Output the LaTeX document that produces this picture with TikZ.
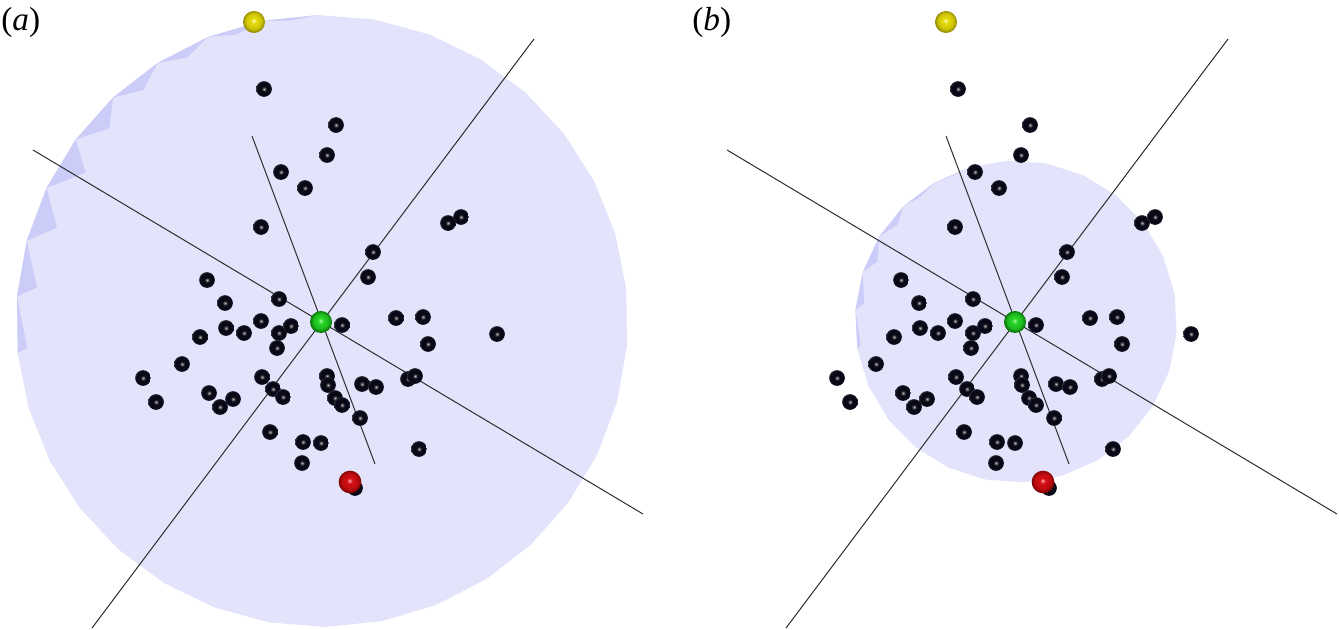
\documentclass[tikz,border=0pt]{standalone}
\usepackage{fontspec}
\setmainfont{Liberation Serif}
\definecolor{discfill}{RGB}{227,227,251}
\definecolor{toothfill}{RGB}{204,204,248}
\definecolor{axiscol}{RGB}{45,45,45}
\definecolor{gA}{RGB}{170,255,170}\definecolor{gB}{RGB}{40,215,40}\definecolor{gD}{RGB}{0,95,0}
\definecolor{rA}{RGB}{255,175,175}\definecolor{rB}{RGB}{215,15,20}\definecolor{rD}{RGB}{110,0,0}
\definecolor{yA}{RGB}{255,255,200}\definecolor{yB}{RGB}{228,218,10}\definecolor{yD}{RGB}{130,120,0}
\definecolor{ballblack}{RGB}{8,8,22}
\pgfdeclareradialshading{bkball}{\pgfpoint{0bp}{0bp}}{color(0bp)=(white!75!black); color(3bp)=(white!45!black); color(8bp)=(ballblack); color(22bp)=(ballblack); color(25bp)=(ballblack!85!white); color(50bp)=(ballblack!85!white)}
\pgfdeclareradialshading{gball}{\pgfpoint{-1bp}{3bp}}{color(0bp)=(gA); color(6bp)=(gB); color(17bp)=(gB!75!gD); color(27bp)=(gD); color(50bp)=(gD)}
\pgfdeclareradialshading{rball}{\pgfpoint{-1bp}{3bp}}{color(0bp)=(rA); color(6bp)=(rB); color(17bp)=(rB!75!rD); color(27bp)=(rD); color(50bp)=(rD)}
\pgfdeclareradialshading{yball}{\pgfpoint{-1bp}{3bp}}{color(0bp)=(yA); color(6bp)=(yB); color(17bp)=(yB!80!yD); color(27bp)=(yD); color(50bp)=(yD)}
\tikzset{
  bb/.style={circle, inner sep=0pt, minimum size=11.8pt, shade, shading=bkball},
  greenball/.style={circle, inner sep=0pt, minimum size=16.5pt, shade, shading=gball},
  redball/.style={circle, inner sep=0pt, minimum size=17pt, shade, shading=rball},
  yellowball/.style={circle, inner sep=0pt, minimum size=16.5pt, shade, shading=yball},
  axisline/.style={draw=axiscol, line width=0.75pt},
  disc/.style={fill=discfill},
  tooth/.style={fill=toothfill},
  paneltag/.style={anchor=west, inner sep=0pt, font=\fontsize{25}{25}\selectfont}
}
\def\pts{264/89, 336/125, 327/155, 281/172, 305/188, 261/227, 448/223, 461/217,
373/252, 368/277, 207/280, 225/303, 279/299, 226/328, 244/333, 261/321, 200/337,
279/333, 291/326, 277/348, 342/325, 396/318, 423/317, 497/334, 428/344, 182/364,
143/378, 156/402, 209/393, 220/407, 233/399, 262/377, 273/389, 283/397, 327/376,
328/385, 335/398, 342/405, 362/384, 376/387, 408/379, 415/376, 360/418, 270/432,
303/442, 321/443, 302/463, 419/449, 355/488}
\begin{document}
\begin{tikzpicture}[x=0.75pt,y=-0.75pt]
\useasboundingbox (0,0) rectangle (1339,630);
% ---- disc (a): faceted, N=34
\fill[disc] plot[samples=35, domain=0:34, variable=\t]
  ({322+306*cos(-4.6+\t*360/34)},{321-306*sin(-4.6+\t*360/34)}) -- cycle;
\foreach \k/\f/\d in {9/0.5/4, 10/0.5/7, 11/0.5/10, 12/0.5/14, 13/0.45/19, 14/0.4/27, 15/0.6/25, 16/0.8/19, 17/0.93/10}{
  \pgfmathsetmacro\ta{-4.6+\k*360/34}
  \pgfmathsetmacro\tb{\ta+360/34}
  \pgfmathsetmacro\tc{\ta+\f*360/34}
  \fill[tooth] ({322+306*cos(\ta)},{321-306*sin(\ta)}) -- ({322+(306-\d)*cos(\tc)},{321-(306-\d)*sin(\tc)}) -- ({322+306*cos(\tb)},{321-306*sin(\tb)}) -- cycle;
}
% ---- disc (b): faceted, N=26
\fill[disc] plot[samples=27, domain=0:26, variable=\t]
  ({1016+161*cos(-4.06+\t*360/26)},{321.5-161*sin(-4.06+\t*360/26)}) -- cycle;
\foreach \k/\f/\d in {8/0.5/2, 9/0.5/4, 10/0.45/8, 11/0.6/10, 12/0.8/8, 13/0.9/4}{
  \pgfmathsetmacro\ta{-4.06+\k*360/26}
  \pgfmathsetmacro\tb{\ta+360/26}
  \pgfmathsetmacro\tc{\ta+\f*360/26}
  \fill[tooth] ({1016+161*cos(\ta)},{321.5-161*sin(\ta)}) -- ({1016+(161-\d)*cos(\tc)},{321.5-(161-\d)*sin(\tc)}) -- ({1016+161*cos(\tb)},{321.5-161*sin(\tb)}) -- cycle;
}
% ---- axis end points
\coordinate (a1s) at (33,150);  \coordinate (a1e) at (643,514);
\coordinate (a2s) at (534,39);  \coordinate (a2e) at (92,628);
\coordinate (a3s) at (252,136); \coordinate (a3e) at (375,464);
\coordinate (b1s) at (727,150); \coordinate (b1e) at (1337,514);
\coordinate (b2s) at (1228,39); \coordinate (b2e) at (786,628);
\coordinate (b3s) at (946,136); \coordinate (b3e) at (1069,464);
\draw[axisline] (a1s) -- (a1e);
\draw[axisline] (a2s) -- (a2e);
\draw[axisline] (a3s) -- (a3e);
\draw[axisline] (b1s) -- (b1e);
\draw[axisline] (b2s) -- (b2e);
\draw[axisline] (b3s) -- (b3e);
% ---- black balls
\foreach \x/\y [count=\i] in \pts {
  \node[bb] (pa\i) at (\x,\y) {};
  \node[bb] (pb\i) at (\x+694,\y) {};
}
% ---- coloured balls
\node[greenball] (ga) at (321,322) {};
\node[greenball] (gb) at (1015,322) {};
\node[redball] (ra) at (350,482) {};
\node[redball] (rb) at (1043,482) {};
\node[yellowball] (ya) at (254,22) {};
\node[yellowball] (yb) at (946,22) {};
% ---- panel tags
\node[paneltag] (taga) at (1,22) {(\textit{a})};
\node[paneltag] (tagb) at (692,22) {(\textit{b})};
\end{tikzpicture}
\end{document}
